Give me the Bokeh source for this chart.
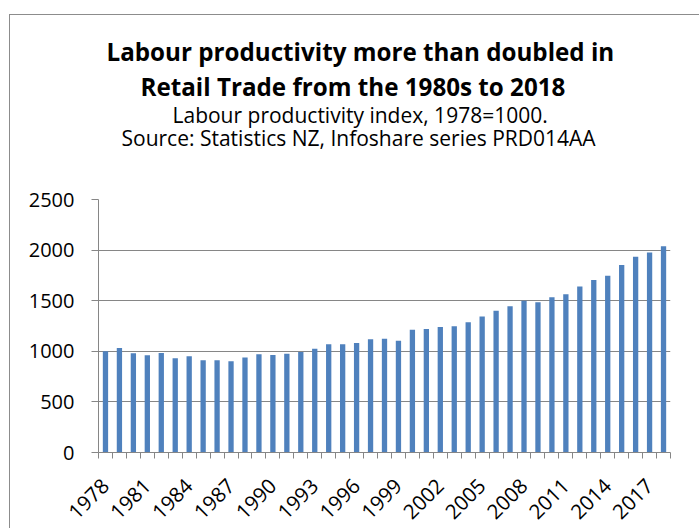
import math
from bokeh.plotting import figure
from bokeh.models import FixedTicker, Title, Range1d
from bokeh.embed import file_html
from bokeh.resources import INLINE

years = list(range(1978, 2019))
productivity = [1000, 1033, 980, 961, 984, 931, 951, 911, 911, 901,
                938, 970, 964, 977, 993, 1026, 1069, 1069, 1082, 1118,
                1125, 1105, 1214, 1220, 1240, 1247, 1286, 1345, 1401, 1444,
                1500, 1484, 1533, 1563, 1641, 1704, 1747, 1852, 1934, 1977,
                2039]
tick_years = years[::3]
y_ticks = [0, 500, 1000, 1500, 2000, 2500]

title_lines = ["Labour productivity more than doubled in",
               "Retail Trade from the 1980s to 2018"]
subtitle_lines = ["Labour productivity index, 1978=1000.",
                  "Source: Statistics NZ, Infoshare series PRD014AA"]

FONT = "Open Sans"
GRID = "#868686"

p = figure(width=690, height=514, output_backend="svg", toolbar_location=None,
           x_range=Range1d(years[0] - 0.5, years[-1] + 0.5),
           y_range=Range1d(0, 2500),
           min_border_left=88, min_border_right=30,
           min_border_top=184, min_border_bottom=77,
           margin=(14, 0, 0, 9),
           styles={"border-left": "1px solid #8c8c8c",
                   "border-top": "1px solid #8c8c8c"})
p.title = None
p.outline_line_color = None
p.background_fill_color = "white"
p.border_fill_color = "white"

p.vbar(x=years, top=productivity, width=0.38, bottom=0,
       fill_color="#4F81BD", line_color=None)

# y axis
p.yaxis.ticker = FixedTicker(ticks=y_ticks)
p.yaxis.axis_line_color = GRID
p.yaxis.major_tick_line_color = GRID
p.yaxis.major_tick_out = 7
p.yaxis.major_tick_in = 0
p.yaxis.minor_tick_line_color = None
p.yaxis.major_label_standoff = 17
p.yaxis.major_label_text_font = FONT
p.yaxis.major_label_text_font_size = "20px"
p.yaxis.major_label_text_color = "black"

# x axis: labels every third year, ticks at category boundaries
p.xaxis.ticker = FixedTicker(ticks=tick_years,
                             minor_ticks=[y - 0.5 for y in years] + [years[-1] + 0.5])
p.xaxis.axis_line_color = GRID
p.xaxis.major_tick_line_color = None
p.xaxis.minor_tick_line_color = GRID
p.xaxis.minor_tick_out = 6
p.xaxis.minor_tick_in = 0
p.xaxis.major_label_orientation = math.pi / 4
p.xaxis.major_label_standoff = 24
p.xaxis.major_label_text_font = FONT
p.xaxis.major_label_text_font_size = "20.5px"
p.xaxis.major_label_text_color = "black"

p.xgrid.grid_line_color = None
p.ygrid.grid_line_color = GRID
p.ygrid.ticker = FixedTicker(ticks=y_ticks)

# spacer between plot area and the title block
p.add_layout(Title(text=" ", text_font_size="1px", standoff=46), "above")

# titles: first added sits closest to the plot
specs = [(subtitle_lines[1], "normal", "21px", 23, -2),
         (subtitle_lines[0], "normal", "21px", 74, -13),
         (title_lines[1], "bold", "24.2px", 42, 6),
         (title_lines[0], "bold", "24.2px", 8, -6)]
for txt, style, size, off, so in specs:
    p.add_layout(Title(text=txt, align="left", offset=off, standoff=so,
                       text_font=FONT, text_font_style=style,
                       text_font_size=size, text_color="black"), "above")

open("out.html", "w").write(file_html(p, INLINE))
